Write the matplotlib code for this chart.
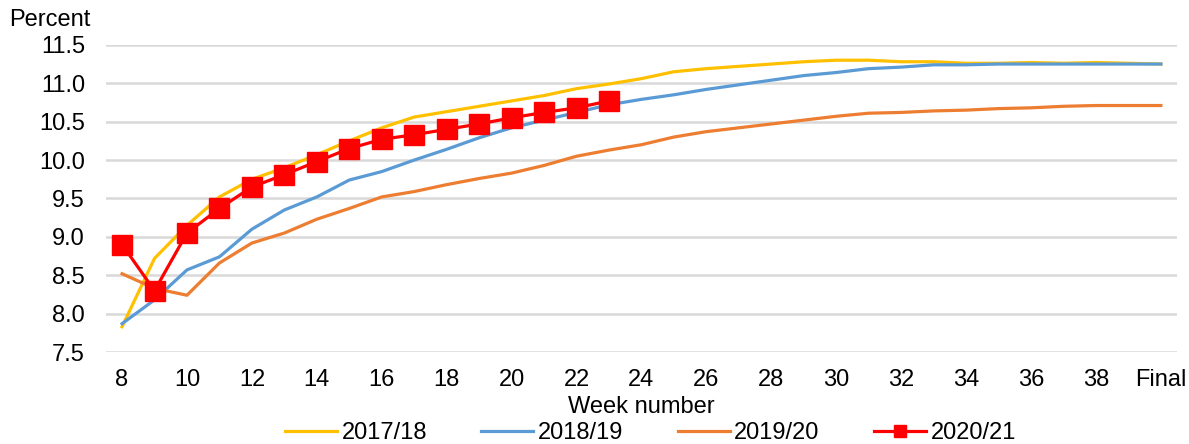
import numpy as np
import matplotlib.pyplot as plt

plt.rcParams['font.family'] = ['Liberation Sans', 'DejaVu Sans']

# week labels: weeks 8-39 then the final figure
weeks = [str(w) for w in range(8, 40)] + ['Final']

y2017 = [7.83, 8.72, 9.15, 9.52, 9.75, 9.90, 10.07, 10.25, 10.42, 10.56, 10.63,
         10.70, 10.77, 10.84, 10.93, 10.99, 11.06, 11.15, 11.19, 11.22, 11.25,
         11.28, 11.30, 11.30, 11.28, 11.28, 11.26, 11.26, 11.27, 11.26, 11.27,
         11.26, 11.25]
y2018 = [7.87, 8.18, 8.57, 8.74, 9.10, 9.35, 9.52, 9.74, 9.85, 10.00, 10.14,
         10.29, 10.42, 10.52, 10.62, 10.72, 10.79, 10.85, 10.92, 10.98, 11.04,
         11.10, 11.14, 11.19, 11.21, 11.24, 11.24, 11.25, 11.25, 11.25, 11.25,
         11.25, 11.25]
y2019 = [8.52, 8.33, 8.24, 8.66, 8.92, 9.05, 9.23, 9.37, 9.52, 9.59, 9.68,
         9.76, 9.83, 9.93, 10.05, 10.13, 10.20, 10.30, 10.37, 10.42, 10.47,
         10.52, 10.57, 10.61, 10.62, 10.64, 10.65, 10.67, 10.68, 10.70, 10.71,
         10.71, 10.71]
y2020 = [8.90, 8.30, 9.05, 9.37, 9.65, 9.81, 9.98, 10.15, 10.27, 10.33, 10.40,
         10.47, 10.55, 10.62, 10.68, 10.77]

x = np.arange(8, 8 + len(weeks))
x[-1] = 40  # "Final" sits one slot after week 39

fig = plt.figure(figsize=(11.89, 4.44), dpi=100)
ax = fig.add_axes([0.089, 0.207, 0.901, 0.692])

ax.plot(x, y2017, color='#FFC000', lw=2.3, label='2017/18')
ax.plot(x, y2018, color='#5B9BD5', lw=2.3, label='2018/19')
ax.plot(x, y2019, color='#ED7D31', lw=2.3, label='2019/20')
ax.plot(x[:len(y2020)], y2020, color='#FF0000', lw=2.3, marker='s',
        markersize=14, label='2020/21')

ax.set_xlim(7.5, 40.5)
ax.set_ylim(7.5, 11.5)
ax.set_yticks(np.arange(7.5, 11.51, 0.5))
ax.set_yticklabels([f'{v:.1f}' for v in np.arange(7.5, 11.51, 0.5)])
tick_pos = list(range(8, 40, 2)) + [40]
ax.set_xticks(tick_pos)
ax.set_xticklabels([str(t) for t in range(8, 40, 2)] + ['Final'])

ax.tick_params(axis='both', length=0, labelsize=17, colors='black')
ax.tick_params(axis='y', pad=15)
ax.tick_params(axis='x', pad=12)
ax.grid(axis='y', color='#D9D9D9', lw=1.8)
ax.set_axisbelow(True)
for s in ax.spines.values():
    s.set_visible(False)

ax.set_xlabel('Week number', fontsize=17, labelpad=4)
fig.text(0.008, 0.955, 'Percent', fontsize=17, va='center', ha='left')

fig.legend(loc='center', bbox_to_anchor=(0.547, 0.024), ncol=4, frameon=False,
           fontsize=17, handlelength=2.2, handletextpad=0.2, columnspacing=2.3,
           borderpad=0, markerscale=0.6)

fig.savefig('out.png', dpi=100)
